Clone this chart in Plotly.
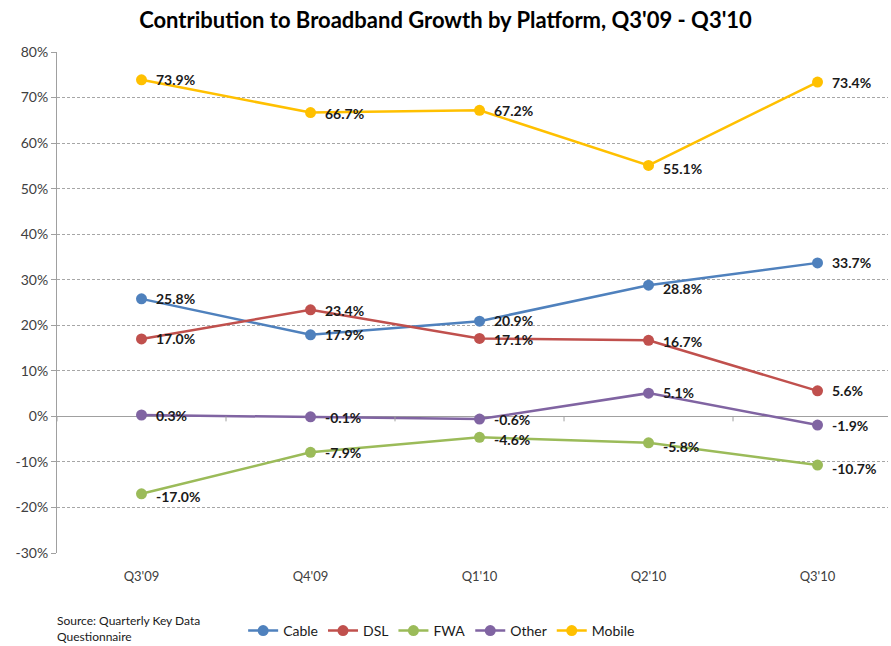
import plotly.graph_objects as go

quarters = ["Q3'09", "Q4'09", "Q1'10", "Q2'10", "Q3'10"]
cable = [25.8, 17.9, 20.9, 28.8, 33.7]
dsl = [17.0, 23.4, 17.1, 16.7, 5.6]
fwa = [-17.0, -7.9, -4.6, -5.8, -10.7]
other = [0.3, -0.1, -0.6, 5.1, -1.9]
mobile = [73.9, 66.7, 67.2, 55.1, 73.4]
y_ticks = [80, 70, 60, 50, 40, 30, 20, 10, 0, -10, -20, -30]

# (name, values, colour, vertical nudge of each value label in px)
series = [
    ("Cable", cable, "#4F81BD", [0, 0, 1, -3, 0]),
    ("DSL", dsl, "#C0504D", [0, -1, -1, -1, 0]),
    ("FWA", fwa, "#9BBB59", [-3, 0, -2, -4, -3]),
    ("Other", other, "#8064A2", [0, -1, 0, 1, 0]),
    ("Mobile", mobile, "#FFC000", [0, -1, 0, -3, 0]),
]

FONT = "Lato"
fig = go.Figure()
annotations = []
for name, vals, color, shifts in series:
    fig.add_trace(go.Scatter(
        x=list(range(len(quarters))), y=vals, name=name,
        mode="lines+markers",
        line=dict(color=color, width=2.5),
        marker=dict(color=color, size=11),
    ))
    for i, v in enumerate(vals):
        annotations.append(dict(
            x=i, y=v, xref="x", yref="y", text=f"<b>{v:.1f}%</b>",
            showarrow=False, xanchor="left", yanchor="middle",
            xshift=12, yshift=shifts[i],
            font=dict(family=FONT, size=14, color="#1a1a1a"),
        ))

annotations.append(dict(
    x=-0.003, y=-0.115, xref="paper", yref="paper", xanchor="left", yanchor="top",
    text="Source: Quarterly Key Data<br>Questionnaire", align="left",
    showarrow=False, font=dict(family=FONT, size=12, color="#1a1a1a"),
))

# small tick marks hanging below the zero line at category boundaries
shapes = []
for b in [i + 0.5 for i in range(-1, len(quarters))]:
    shapes.append(dict(
        type="line", xref="x", yref="y", x0=b, x1=b,
        ysizemode="pixel", yanchor=0, y0=0, y1=-5,
        line=dict(color="#a0a0a0", width=1),
    ))

fig.update_layout(
    width=891, height=646,
    margin=dict(l=57, r=3, t=52, b=93, autoexpand=False),
    paper_bgcolor="white", plot_bgcolor="white",
    title=dict(text="<b>Contribution to Broadband Growth by Platform, Q3'09 - Q3'10</b>",
               x=0.5, xanchor="center", y=0.968, yanchor="middle",
               font=dict(family=FONT, size=22, color="#000000")),
    font=dict(family=FONT),
    showlegend=True,
    legend=dict(orientation="h", x=0.224, y=15 / 646, yref="container",
                xanchor="left", yanchor="middle",
                font=dict(family=FONT, size=14, color="#1a1a1a"),
                itemwidth=30, tracegroupgap=0, bgcolor="rgba(0,0,0,0)"),
    annotations=annotations,
    shapes=shapes,
)
fig.update_xaxes(
    range=[-0.5, 4.417], tickmode="array",
    tickvals=list(range(len(quarters))), ticktext=quarters,
    showgrid=False, zeroline=False, showline=False, ticks="",
    ticklabelstandoff=14, automargin=False,
    tickfont=dict(family=FONT, size=13, color="#404040"),
)
fig.update_yaxes(
    range=[-30, 80], tickmode="array", tickvals=y_ticks,
    ticktext=[f"{t}%" for t in y_ticks],
    showgrid=True, gridcolor="#a6a6a6", griddash="3px,2px", gridwidth=1,
    zeroline=True, zerolinecolor="#a0a0a0", zerolinewidth=1,
    showline=True, linecolor="#a0a0a0", linewidth=1,
    ticks="outside", ticklen=5, tickcolor="#a0a0a0", automargin=False,
    tickfont=dict(family=FONT, size=14, color="#404040"),
)

fig.write_html("out.html")
